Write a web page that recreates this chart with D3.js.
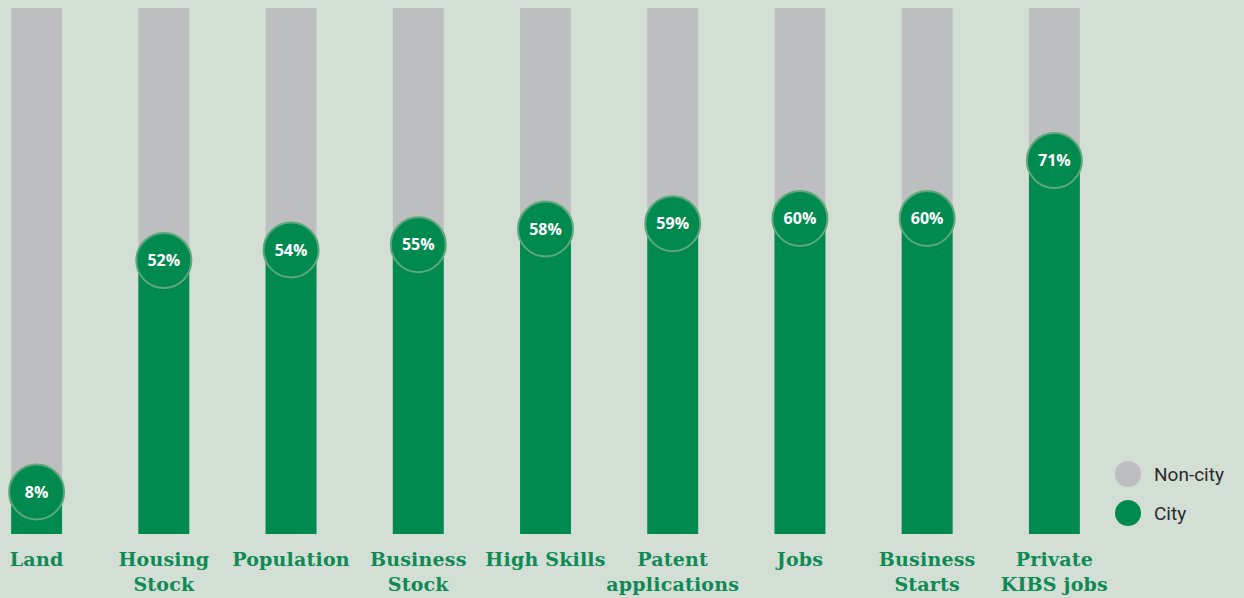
<!DOCTYPE html>
<html>
<head>
<meta charset="utf-8">
<script src="https://cdn.jsdelivr.net/npm/d3@7"></script>
<style>
  html, body { margin: 0; padding: 0; background: #d3ded5; }
  svg { display: block; }
</style>
</head>
<body>
<svg id="chart" width="1244" height="598"></svg>
<script>
// Share of each measure located in the city (rest = non-city)
const categories = [
  ["Land"],
  ["Housing", "Stock"],
  ["Population"],
  ["Business", "Stock"],
  ["High Skills"],
  ["Patent", "applications"],
  ["Jobs"],
  ["Business", "Starts"],
  ["Private", "KIBS jobs"]
];
const cityShare = [8, 52, 54, 55, 58, 59, 60, 60, 71];
const seriesNames = ["Non-city", "City"];

const colors = { bg: "#d3ded5", grey: "#bdbec0", green: "#008a50", ring: "#5ea879", label: "#0f8a55", legendText: "#2b2b2b" };

const svg = d3.select("#chart");
const width = 1244, height = 598;

const keys = categories.map(c => c.join(" "));
const x = d3.scaleBand().domain(keys).range([-27, 1118]).paddingInner(0.6).paddingOuter(0.3);
const y = d3.scaleLinear().domain([0, 100]).range([534, 8]);

const data = keys.map((k, i) => ({ key: k, lines: categories[i], city: cityShare[i] }));

// Full-height background bar (non-city)
svg.append("g").selectAll("rect").data(data).join("rect")
  .attr("x", d => x(d.key))
  .attr("y", y(100))
  .attr("width", x.bandwidth())
  .attr("height", y(0) - y(100))
  .attr("fill", colors.grey);

// City portion
svg.append("g").selectAll("rect").data(data).join("rect")
  .attr("x", d => x(d.key))
  .attr("y", d => y(d.city))
  .attr("width", x.bandwidth())
  .attr("height", d => y(0) - y(d.city))
  .attr("fill", colors.green);

// Value badges
const badges = svg.append("g").selectAll("g").data(data).join("g")
  .attr("transform", d => `translate(${x(d.key) + x.bandwidth() / 2},${y(d.city)})`);
badges.append("circle")
  .attr("r", 27.5)
  .attr("fill", colors.green)
  .attr("stroke", colors.ring)
  .attr("stroke-width", 2);
badges.append("text")
  .attr("text-anchor", "middle")
  .attr("dy", "0.36em")
  .attr("fill", "#fff")
  .attr("font-family", "'Open Sans', sans-serif")
  .attr("font-weight", 700)
  .attr("font-size", 16)
  .text(d => d.city + "%");

// Category labels
const labels = svg.append("g").selectAll("text").data(data).join("text")
  .attr("x", d => x(d.key) + x.bandwidth() / 2)
  .attr("y", 566)
  .attr("text-anchor", "middle")
  .attr("fill", colors.label)
  .attr("font-family", "'DejaVu Serif', serif")
  .attr("font-weight", 700)
  .attr("font-size", 19)
  .attr("letter-spacing", 0.2);
labels.selectAll("tspan").data(d => d.lines.map(l => ({ l, cx: x(d.key) + x.bandwidth() / 2 }))).join("tspan")
  .attr("x", d => d.cx)
  .attr("dy", (d, i) => i === 0 ? 0 : 25)
  .text(d => d.l);

// Legend
const legend = svg.append("g").attr("transform", "translate(1128,474)");
const legendColors = [colors.grey, colors.green];
seriesNames.forEach((name, i) => {
  const g = legend.append("g").attr("transform", `translate(0,${i * 39})`);
  g.append("circle").attr("r", 13).attr("fill", legendColors[i]);
  g.append("text")
    .attr("x", 26)
    .attr("dy", "0.35em")
    .attr("fill", colors.legendText)
    .attr("font-family", "Roboto, sans-serif")
    .attr("font-size", 19)
    .text(name);
});
</script>
</body>
</html>
